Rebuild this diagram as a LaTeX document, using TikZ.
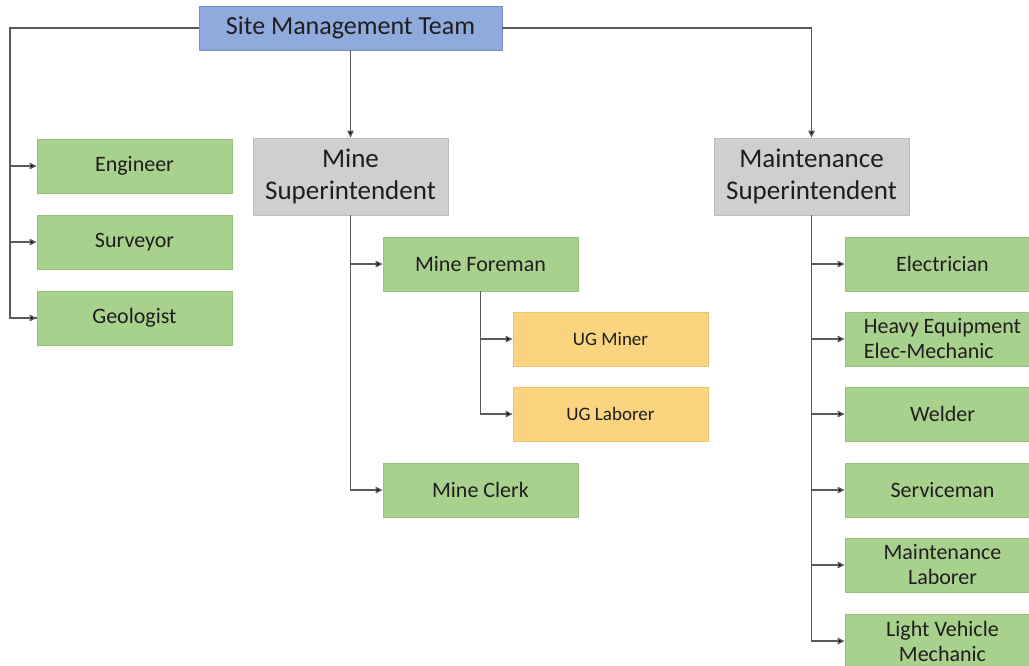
\documentclass[tikz,border=0pt]{standalone}
\usepackage{fontspec}
\setmainfont{Carlito}
\usepackage{xcolor}
\usepackage{tikz}
\usetikzlibrary{positioning, arrows.meta, calc}

\definecolor{topblue}{HTML}{8FAADC}
\definecolor{topblueline}{HTML}{7590C8}
\definecolor{supgray}{HTML}{D0CECE}
\definecolor{supgrayline}{HTML}{BDBDBD}
\definecolor{staffgreen}{HTML}{A9D18E}
\definecolor{staffgreenline}{HTML}{97C27A}
\definecolor{crewyellow}{HTML}{FAD47E}
\definecolor{crewyellowline}{HTML}{EEC46A}
\definecolor{inktext}{HTML}{1E1E1E}
\definecolor{linkgray}{HTML}{5A5A5A}

\begin{document}
\begin{tikzpicture}[
    x=1pt, y=-1pt,
    base/.style={
        rectangle,
        line width=0.8pt,
        text=inktext,
        align=center,
        inner sep=2pt
    },
    head/.style={base, draw=topblueline, fill=topblue,
        minimum width=303pt, minimum height=44pt,
        font=\fontsize{26}{31}\selectfont},
    super/.style={base, draw=supgrayline, fill=supgray,
        minimum width=195pt, minimum height=77pt,
        font=\fontsize{27}{32}\selectfont},
    staff/.style={base, draw=staffgreenline, fill=staffgreen,
        minimum width=195pt, minimum height=54pt,
        font=\fontsize{22}{25}\selectfont},
    crew/.style={base, draw=crewyellowline, fill=crewyellow,
        minimum width=195pt, minimum height=54pt,
        font=\fontsize{19}{23}\selectfont},
    link/.style={draw=linkgray, line width=1.3pt},
    arr/.style={link, -{Triangle[length=7pt, width=6.5pt, fill=black]}}
]

\useasboundingbox (0,0) rectangle (1029,665);
\clip (0,0) rectangle (1029,665);

\def\xs{134.5}
\def\xm{350.5}
\def\xf{480.5}
\def\xc{610.5}
\def\xr{811.5}
\def\xe{942.5}

% Top
\node[head] (stm) at (\xm, 28) {Site Management Team};

% Superintendents
\node[super] (mine)  at (\xm, 176.5) {Mine\\Superintendent};
\node[super] (maint) at (\xr, 176.5) {Maintenance\\Superintendent};

% Site staff
\node[staff] (eng) at (\xs, 166) {Engineer};
\node[staff] (sur) at (\xs, 242) {Surveyor};
\node[staff] (geo) at (\xs, 318) {Geologist};

% Mine side
\node[staff] (fore)  at (\xf, 264) {Mine Foreman};
\node[crew]  (miner) at (\xc, 339) {UG Miner};
\node[crew]  (lab)   at (\xc, 414) {UG Laborer};
\node[staff] (clerk) at (\xf, 490) {Mine Clerk};

% Maintenance side
\node[staff] (elec) at (\xe, 264) {Electrician};
\node[staff, align=left] (heavy) at (\xe, 339) {Heavy Equipment\\Elec-Mechanic};
\node[staff] (weld) at (\xe, 414) {Welder};
\node[staff] (serv) at (\xe, 490) {Serviceman};
\node[staff] (mlab) at (\xe, 565) {Maintenance\\Laborer};
\node[staff] (lvm)  at (\xe, 641) {Light Vehicle\\Mechanic};

% Connectors
\coordinate (trunk) at (10, 28);
\draw[link] (stm.west) -- (trunk) |- (geo.west);
\draw[arr] (trunk |- eng.west) -- (eng.west);
\draw[arr] (trunk |- sur.west) -- (sur.west);
\draw[arr] (trunk |- geo.west) -- (geo.west);

\draw[arr] (stm.south) -- (mine.north);
\draw[arr] (stm.east) -| (maint.north);

\draw[arr] (mine.south) |- (clerk.west);
\draw[arr] (mine.south |- fore.west) -- (fore.west);

\draw[arr] (fore.south) |- (lab.west);
\draw[arr] (fore.south |- miner.west) -- (miner.west);

\draw[arr] (maint.south) |- (lvm.west);
\foreach \n in {elec, heavy, weld, serv, mlab}
    \draw[arr] (maint.south |- \n.west) -- (\n.west);

\end{tikzpicture}
\end{document}
